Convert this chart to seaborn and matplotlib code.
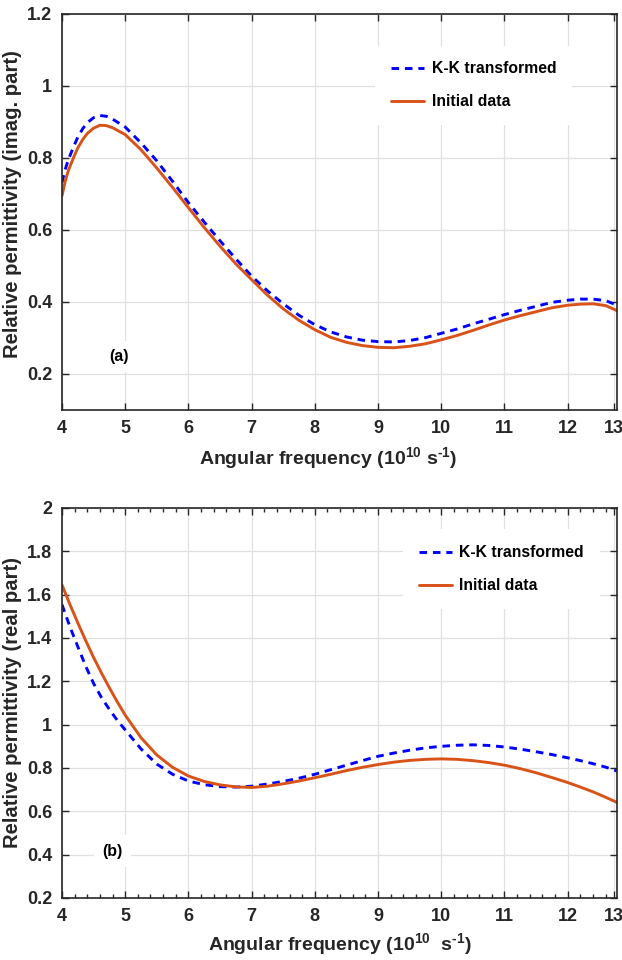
import numpy as np
import pandas as pd
import matplotlib
matplotlib.use("Agg")
import matplotlib.pyplot as plt
import seaborn as sns
from matplotlib.ticker import MultipleLocator, FixedLocator

# ---------------- data ----------------
# (a) imaginary part
x_imag = [4.0, 4.05, 4.1, 4.18, 4.25, 4.33, 4.4, 4.5, 4.6, 4.7, 4.8, 5.0, 5.25, 5.5, 5.75,
          6.0, 6.25, 6.5, 6.75, 7.0, 7.25, 7.5, 7.75, 8.0, 8.25, 8.5, 8.75, 9.0, 9.25,
          9.5, 9.75, 10.0, 10.25, 10.5, 10.75, 11.0, 11.25, 11.5, 11.75, 12.0, 12.2,
          12.4, 12.6, 12.78]
imag_initial = [0.695, 0.735, 0.765, 0.80, 0.828, 0.852, 0.868, 0.883, 0.891, 0.890, 0.884,
                0.865, 0.823, 0.772, 0.718, 0.662, 0.607, 0.555, 0.506, 0.462, 0.419, 0.381,
                0.349, 0.323, 0.302, 0.288, 0.279, 0.274, 0.273, 0.277, 0.284, 0.295, 0.307,
                0.321, 0.336, 0.350, 0.362, 0.373, 0.384, 0.391, 0.394, 0.395, 0.390, 0.376]
imag_kk = [0.732, 0.768, 0.795, 0.83, 0.858, 0.882, 0.898, 0.912, 0.918, 0.916, 0.908,
           0.886, 0.842, 0.792, 0.735, 0.676, 0.622, 0.570, 0.520, 0.472, 0.431, 0.395,
           0.363, 0.337, 0.317, 0.303, 0.294, 0.290, 0.289, 0.293, 0.301, 0.313, 0.325,
           0.339, 0.352, 0.365, 0.377, 0.388, 0.399, 0.405, 0.408, 0.408, 0.404, 0.391]

# (b) real part
x_real = [4.0, 4.125, 4.25, 4.375, 4.5, 4.625, 4.75, 4.875, 5.0, 5.25, 5.5, 5.75, 6.0, 6.25,
          6.5, 6.75, 7.0, 7.25, 7.5, 7.75, 8.0, 8.25, 8.5, 8.75, 9.0, 9.25, 9.5, 9.75, 10.0,
          10.25, 10.5, 10.75, 11.0, 11.25, 11.5, 11.75, 12.0, 12.2, 12.4, 12.6, 12.78]
real_initial = [1.645, 1.555, 1.47, 1.388, 1.31, 1.238, 1.17, 1.105, 1.044, 0.94, 0.86, 0.803,
                0.763, 0.738, 0.722, 0.713, 0.710, 0.716, 0.727, 0.740, 0.755, 0.771, 0.788,
                0.803, 0.816, 0.827, 0.835, 0.840, 0.842, 0.840, 0.834, 0.825, 0.813, 0.797,
                0.778, 0.756, 0.733, 0.712, 0.690, 0.665, 0.641]
real_kk = [1.554, 1.452, 1.36, 1.27, 1.19, 1.125, 1.07, 1.02, 0.976, 0.888, 0.818, 0.771,
           0.740, 0.723, 0.714, 0.712, 0.716, 0.726, 0.738, 0.753, 0.771, 0.792, 0.813,
           0.834, 0.854, 0.869, 0.882, 0.893, 0.900, 0.905, 0.907, 0.904, 0.897, 0.887,
           0.875, 0.862, 0.847, 0.834, 0.820, 0.804, 0.786]

x_tick_values = [4, 5, 6, 7, 8, 9, 10, 11, 12, 12.73]
x_tick_labels = ["4", "5", "6", "7", "8", "9", "10", "11", "12", "13"]
y_ticks_a = [0.2, 0.4, 0.6, 0.8, 1.0, 1.2]
y_tick_labels_a = ["0.2", "0.4", "0.6", "0.8", "1", "1.2"]
y_ticks_b = [0.2, 0.4, 0.6, 0.8, 1.0, 1.2, 1.4, 1.6, 1.8, 2.0]
y_tick_labels_b = ["0.2", "0.4", "0.6", "0.8", "1", "1.2", "1.4", "1.6", "1.8", "2"]

# ---------------- style ----------------
sns.set_theme(style="ticks")
plt.rcParams["font.family"] = ["Liberation Sans", "DejaVu Sans"]
plt.rcParams["font.weight"] = "bold"
plt.rcParams["axes.labelweight"] = "bold"
plt.rcParams["mathtext.fontset"] = "custom"
plt.rcParams["mathtext.rm"] = "Liberation Sans:bold"
plt.rcParams["mathtext.it"] = "Liberation Sans:bold"
plt.rcParams["mathtext.bf"] = "Liberation Sans:bold"
plt.rcParams["mathtext.default"] = "rm"

TXT = "#262626"
BLUE = "#0000FF"
ORANGE = "#D95319"

fig = plt.figure(figsize=(6.22, 9.60), dpi=100)
ax_a = fig.add_axes([62 / 622, 1 - 410 / 960, 555 / 622, 396 / 960])
ax_b = fig.add_axes([62 / 622, 1 - 898 / 960, 555 / 622, 390 / 960])

df_a = pd.DataFrame({"x": x_imag, "kk": imag_kk, "init": imag_initial})
df_b = pd.DataFrame({"x": x_real, "kk": real_kk, "init": real_initial})


def draw(ax, df, yticks, ylabels, ylim, ylabel, xlabel, tag, tagpos, legpos, minor,
         xlab_pos, ylab_y):
    sns.lineplot(data=df, x="x", y="kk", ax=ax, color=BLUE, lw=2.1,
                 label="K-K transformed", linestyle="--")
    ax.lines[-1].set_dashes((2.6, 2.0))
    sns.lineplot(data=df, x="x", y="init", ax=ax, color=ORANGE, lw=2.1,
                 label="Initial data")
    ax.set_xlim(4, 12.78)
    ax.set_ylim(*ylim)
    ax.xaxis.set_major_locator(FixedLocator(x_tick_values))
    ax.set_xticklabels(x_tick_labels)
    ax.set_yticks(yticks)
    ax.set_yticklabels(ylabels)
    if minor:
        ax.xaxis.set_minor_locator(MultipleLocator(0.2))
    ax.grid(True, which="major", color="#e0e0e0", lw=0.9)
    ax.set_axisbelow(True)
    ax.tick_params(axis="both", which="both", direction="in", top=True, right=True,
                   colors=TXT, labelcolor=TXT, labelsize=13, width=1.0)
    ax.tick_params(which="major", length=5, pad=7)
    ax.tick_params(which="minor", length=3)
    for lab in ax.get_xticklabels() + ax.get_yticklabels():
        lab.set_fontweight("bold")
    for s in ax.spines.values():
        s.set_color(TXT)
        s.set_linewidth(1.2)
    ax.set_xlabel(xlabel, fontsize=14, color=TXT, fontweight="bold")
    ax.set_ylabel(ylabel, fontsize=14.6, color=TXT, fontweight="bold")
    ax.xaxis.set_label_coords(xlab_pos[0], xlab_pos[1])
    ax.yaxis.set_label_coords(-0.072, ylab_y)
    ax.text(tagpos[0], tagpos[1], tag, transform=ax.transAxes, fontsize=11.5,
            fontweight="bold", color="black", ha="left", va="center",
            bbox=dict(facecolor="white", edgecolor="none", pad=6))
    leg = ax.legend(loc="upper left", bbox_to_anchor=legpos, frameon=True,
                    fancybox=False, edgecolor="none", facecolor="white", framealpha=1,
                    fontsize=11.3, handlelength=2.1, handletextpad=0.5,
                    labelspacing=1.15, borderpad=1.0)
    for t in leg.get_texts():
        t.set_fontweight("bold")
        t.set_color("black")


draw(ax_a, df_a, y_ticks_a, y_tick_labels_a, (0.1, 1.2),
     "Relative permittivity (imag. part)",
     r"Angular frequency (10$^{10}$ s$^{\text{-1}}$)",
     "(a)", (0.085, 0.135), (0.55, 0.94), False, (0.48, -0.088), 0.52)
draw(ax_b, df_b, y_ticks_b, y_tick_labels_b, (0.2, 2.0),
     "Relative permittivity (real part)",
     r"Angular frequency (10$^{10}$  s$^{\text{-1}}$)",
     "(b)", (0.073, 0.12), (0.6, 0.965), True, (0.5, -0.085), 0.5)

fig.savefig("out.png", dpi=100, facecolor="white")
